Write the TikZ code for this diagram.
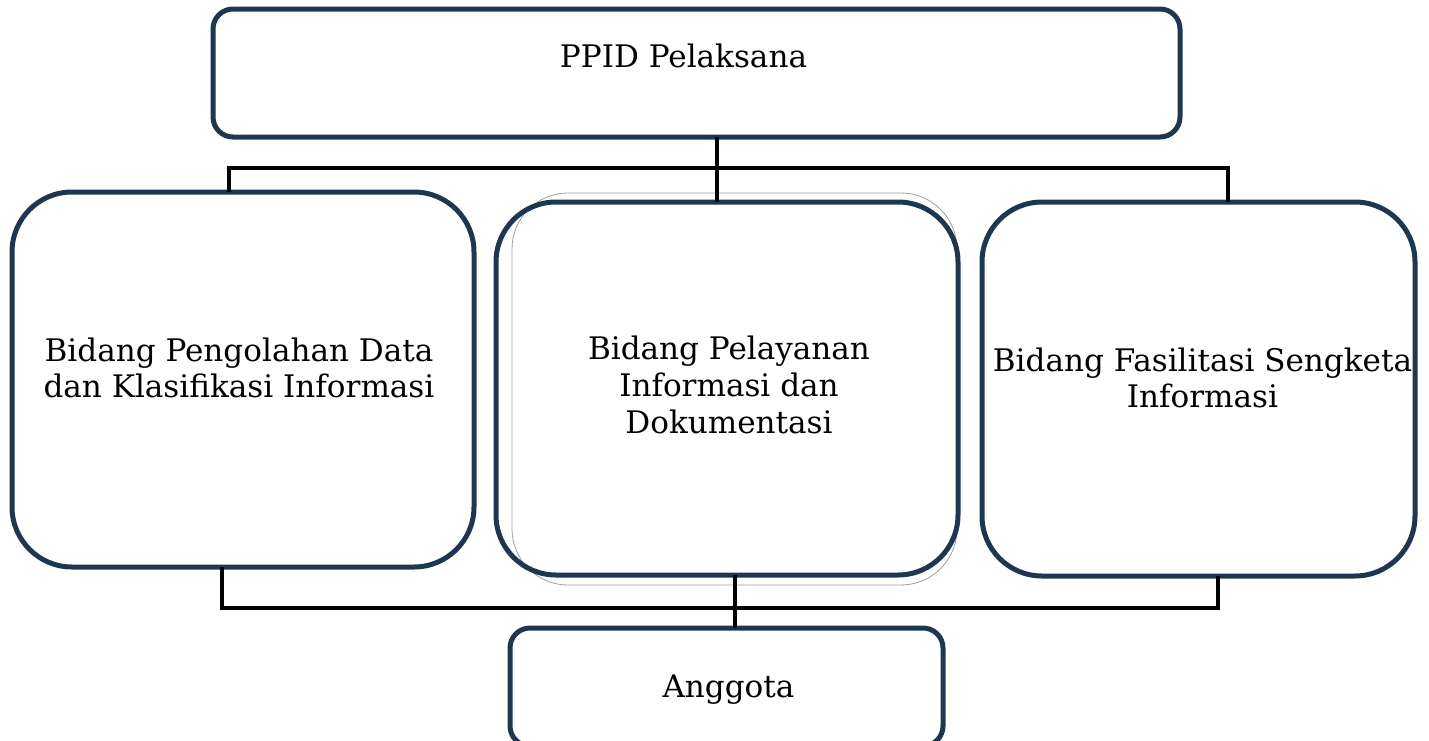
\documentclass[tikz,border=0pt]{standalone}
\usepackage{fontspec}
\setmainfont{DejaVu Serif}
\definecolor{navy}{HTML}{1F3653}
\tikzset{
  box/.style={draw=navy, line width=3.75pt, rounded corners=45pt, inner sep=0pt, outer sep=0pt},
  smallbox/.style={box, rounded corners=15pt},
  lbl/.style={align=center, inner sep=0pt, font=\fontsize{23.3}{27.5}\selectfont},
  conn/.style={draw=black, line width=2.6pt},
}

\begin{document}
\begin{tikzpicture}[x=0.75pt, y=-0.75pt]
        \useasboundingbox (0,0) rectangle (1429,740);

        % faint outline behind the middle box
        \draw[gray!75, line width=0.6pt, rounded corners=42pt] (512,193) rectangle (957,585);

        \node[smallbox, minimum width=725.25pt, minimum height=96pt] at (696.5, 73)  (top) {};
        \node[box, minimum width=346.5pt, minimum height=281.25pt] at (243, 379.5)  (left) {};
        \node[box, minimum width=346.5pt, minimum height=279.75pt] at (727, 388.5)  (mid) {};
        \node[box, minimum width=324.75pt, minimum height=280.5pt] at (1198.5, 389)  (right) {};
        \node[smallbox, minimum width=324.75pt, minimum height=88.5pt] at (726.5, 687)  (agt) {};

        \node[lbl, anchor=base] at (683.5, 67)  (topT) {PPID Pelaksana};
        \node[lbl] at (239, 368)   (leftT)  {Bidang Pengolahan Data\\dan Klasifikasi Informasi};
        \node[lbl] at (729, 385)   (midT)   {Bidang Pelayanan\\Informasi dan\\Dokumentasi};
        \node[lbl] at (1202.5, 378) (rightT) {Bidang Fasilitasi Sengketa\\Informasi};
        \node[lbl, anchor=base] at (728.5, 697)  (agtT) {Anggota};

        \coordinate (tl) at (229, 168);
        \coordinate (tm) at (717, 168);
        \coordinate (tr) at (1228, 168);
        \coordinate (bl) at (222, 608);
        \coordinate (bm) at (735, 608);
        \coordinate (br) at (1218, 608);

        \draw[conn] (tl |- left.north) -- (tl) -- (tr) -- (tr |- right.north);
        \draw[conn] (tm |- top.south) -- (tm |- mid.north);
        \draw[conn] (bl |- left.south) -- (bl) -- (br) -- (br |- right.south);
        \draw[conn] (bm |- mid.south) -- (bm |- agt.north);
    \end{tikzpicture}
\end{document}
